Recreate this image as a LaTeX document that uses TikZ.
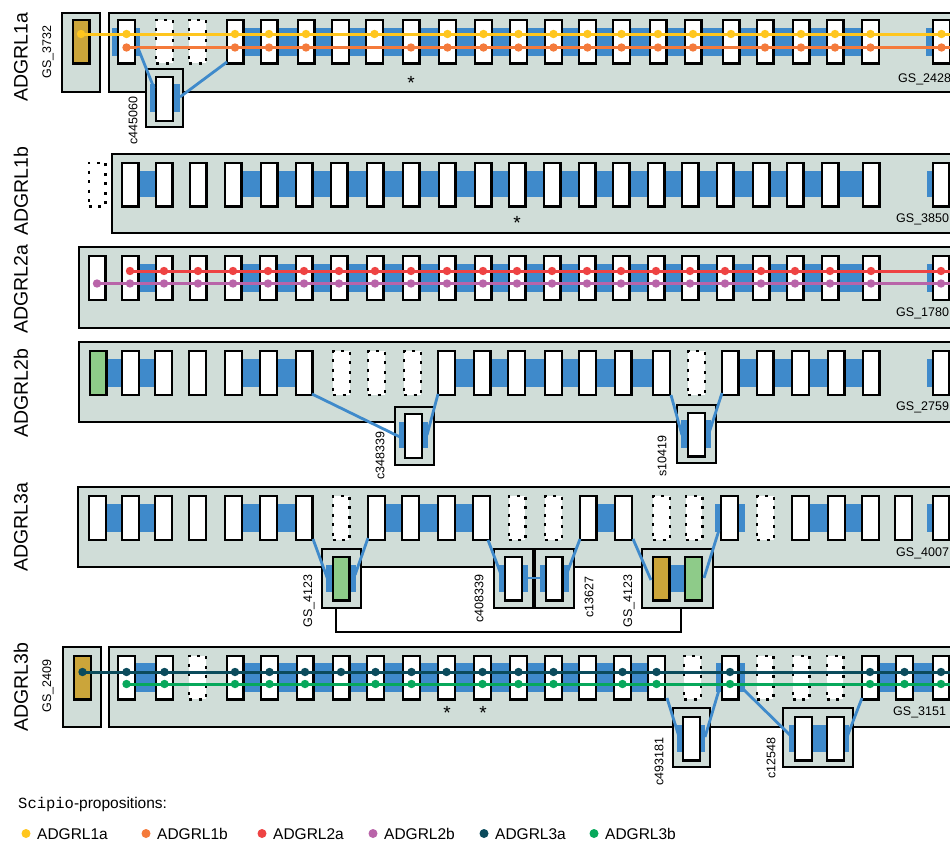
\documentclass[tikz,border=0pt]{standalone}
\usepackage{fontspec}
\setmainfont{Liberation Sans}
\setmonofont{Liberation Mono}
\definecolor{pan}{HTML}{D0DDD8}
\definecolor{bl}{HTML}{3F8ACB}
\definecolor{cyel}{HTML}{FFC61E}
\definecolor{cora}{HTML}{F47A3B}
\definecolor{cred}{HTML}{EE4343}
\definecolor{cpur}{HTML}{B964A9}
\definecolor{cteal}{HTML}{0B4B5C}
\definecolor{cgrn}{HTML}{07A85B}
\definecolor{gold}{HTML}{CBA53A}
\definecolor{lgrn}{HTML}{8ECB89}
\begin{document}
\begin{tikzpicture}[x=1pt,y=-1pt,
  panel/.style={draw=black,line width=1.3pt,fill=pan},
  exn/.style={draw=black,line width=2.2pt,fill=white,minimum width=16.8pt,minimum height=43.8pt,inner sep=0pt},
  exd/.style={exn,dash pattern=on 3pt off 6.5pt},
  exg/.style={exn,fill=gold},
  exG/.style={exn,fill=lgrn},
  conn/.style={draw=bl,line width=2.8pt},
  trk/.style={line width=3pt},
  rowlab/.style={font=\fontsize{19.5}{19.5}\selectfont,rotate=90,inner sep=0pt},
  lab/.style={font=\fontsize{12.5}{12.5}\selectfont,inner sep=0pt},
  rlab/.style={lab,rotate=90},
  star/.style={font=\fontsize{19}{19}\selectfont,inner sep=0pt},
  leg/.style={font=\fontsize{15.5}{15.5}\selectfont,inner sep=0pt,anchor=base west}]
\useasboundingbox (0,0) rectangle (950,841);
\fill[white] (0,0) rectangle (950,841);

% ---------------- ADGRL1a ----------------
\node[rowlab] (L1a) at (21,57) {ADGRL1a};
\draw[panel] (62,13) rectangle (100,92);
\draw[panel] (109,13) rectangle (960,92);
\fill[bl] (112,28) rectangle (140,56);
\fill[bl] (235,28) rectangle (870,56);
\fill[bl] (926,28) rectangle (960,56);
\node[exg] (a0) at (81,41.5) {};
\foreach \x/\t [count=\i] in {126.5/exn,164.5/exd,197.5/exd,235/exn,269/exn,306/exn,340.5/exn,374.5/exn,411/exn,447.5/exn,483.5/exn,518.5/exn,553.5/exn,587.5/exn,621.5/exn,658/exn,693/exn,731/exn,765/exn,801/exn,835/exn,870.5/exn,941.5/exn}
  \node[\t] (a\i) at (\x,41.5) {};
\draw[trk,cyel] (81,34) -- (960,34);
\draw[trk,cora] (126.5,47.5) -- (960,47.5);
\foreach \x in {81,126.5,235,269,306,374.5,447.5,483.5,518.5,553.5,587.5,621.5,658,693,731,765,801,835,870.5,941.5}
  \fill[cyel] (\x,34) circle (4.2);
\foreach \x in {126.5,235,269,306,411,447.5,483.5,518.5,553.5,587.5,621.5,658,693,765,801,835,870.5,941.5}
  \fill[cora] (\x,47.5) circle (4.2);
\node[rlab] (g3732) at (48,52) {GS\_3732};
\node[lab,anchor=west] (g2428) at (898,79) {GS\_2428};
\node[star] (s1) at (411,83) {*};
% sub c445060
\draw[panel] (146,69) rectangle (183,127);
\fill[bl] (150,84) rectangle (180,112);
\node[exn] (a1s) at (164.5,99) {};
\node[rlab] (c445060) at (133,121) {c445060};
\draw[conn] (138,48) -- (154,88);
\draw[conn] (227,62) -- (180,97);

% ---------------- ADGRL1b ----------------
\node[rowlab] (L1b) at (21,191) {ADGRL1b};
\draw[panel] (112,154) rectangle (960,233);
\fill[bl] (130,171) rectangle (164,197);
\fill[bl] (233,171) rectangle (871,197);
\fill[bl] (927,171) rectangle (960,197);
\foreach \x/\t [count=\i] in {97/exd,130/exn,164/exn,198/exn,233/exn,269/exn,304/exn,339/exn,375/exn,411/exn,447/exn,483/exn,517/exn,552/exn,587/exn,621/exn,656/exn,690/exn,725/exn,761/exn,795/exn,830/exn,871/exn,941/exn}
  \node[\t] (b\i) at (\x,184.5) {};
\node[lab,anchor=west] (g3850) at (896,219) {GS\_3850};
\node[star] (s2) at (517,223) {*};

% ---------------- ADGRL2a ----------------
\node[rowlab] (L2a) at (21,289) {ADGRL2a};
\draw[panel] (79,247) rectangle (960,328);
\fill[bl] (130,264) rectangle (164,292);
\fill[bl] (233,264) rectangle (871,292);
\fill[bl] (927,264) rectangle (960,292);
\foreach \x/\t [count=\i] in {97/exn,130/exn,164/exn,198/exn,233/exn,268/exn,304/exn,339/exn,375/exn,411/exn,447/exn,483/exn,517/exn,552/exn,587/exn,621/exn,656/exn,690/exn,725/exn,761/exn,795/exn,830/exn,871/exn,941/exn}
  \node[\t] (c\i) at (\x,278) {};
\draw[trk,cred] (130,271) -- (960,271);
\draw[trk,cpur] (97,283.5) -- (960,283.5);
\foreach \x in {130,164,198,233,268,304,339,375,411,447,483,517,552,587,621,656,690,725,761,795,830,871,941}
  \fill[cred] (\x,271) circle (4.2);
\foreach \x in {97,130,164,198,233,268,304,339,375,411,447,483,517,552,587,621,656,690,725,761,795,830,871,941}
  \fill[cpur] (\x,283.5) circle (4.2);
\node[lab,anchor=west] (g1780) at (896,313) {GS\_1780};

% ---------------- ADGRL2b ----------------
\node[rowlab] (L2b) at (21,393) {ADGRL2b};
\draw[panel] (79,342) rectangle (960,422);
\fill[bl] (98,359) rectangle (164,387);
\fill[bl] (233.5,359) rectangle (304,387);
\fill[bl] (446.5,359) rectangle (661.5,387);
\fill[bl] (730,359) rectangle (871,387);
\fill[bl] (927,359) rectangle (960,387);
\foreach \x/\t [count=\i] in {98/exG,130.5/exn,163.5/exn,197.5/exn,233.5/exn,268.5/exn,304/exn,341.5/exd,376.5/exd,412.5/exd,446.5/exn,482/exn,516.5/exn,553.5/exn,587.5/exn,623/exn,661.5/exn,696.5/exd,730/exn,765/exn,800.5/exn,836/exn,871/exn,941/exn}
  \node[\t] (d\i) at (\x,373) {};
\node[lab,anchor=west] (g2759) at (896,407) {GS\_2759};
% sub c348339
\draw[panel] (395,407) rectangle (434,465);
\fill[bl] (399,422) rectangle (428,448);
\node[exn] (d8s) at (413.5,436) {};
\node[rlab] (c348339) at (380,456) {c348339};
\draw[conn] (312,394) -- (400,437);
\draw[conn] (438,394) -- (427,435);
% sub s10419
\draw[panel] (677,405) rectangle (716,463);
\fill[bl] (681,420) rectangle (711,448);
\node[exn] (d18s) at (696.5,434.5) {};
\node[rlab] (s10419) at (662,456) {s10419};
\draw[conn] (671,395) -- (682,435);
\draw[conn] (722,393) -- (709,433);

% ---------------- ADGRL3a ----------------
\node[rowlab] (L3a) at (21,527) {ADGRL3a};
\draw[panel] (78,487) rectangle (960,567);
\fill[bl] (97.5,504) rectangle (163.5,532);
\fill[bl] (233.5,504) rectangle (304,532);
\fill[bl] (376.5,504) rectangle (481.5,532);
\fill[bl] (588,504) rectangle (623.5,532);
\fill[bl] (715,504) rectangle (745,532);
\fill[bl] (800.5,504) rectangle (870.5,532);
\fill[bl] (927,504) rectangle (960,532);
\foreach \x/\t [count=\i] in {97.5/exn,130.5/exn,163.5/exn,197.5/exn,233.5/exn,268.5/exn,304/exn,341/exd,376.5/exn,410.5/exn,446.5/exn,481.5/exn,517/exd,553.5/exd,588/exn,623.5/exn,661.5/exd,694/exd,729.5/exn,765.5/exd,800.5/exn,836.5/exn,870.5/exn,903.5/exn,941/exn}
  \node[\t] (e\i) at (\x,518) {};
\node[lab,anchor=west] (g4007) at (896,553) {GS\_4007};
% bracket
\draw[line width=1.4pt] (336,601) -- (336,632) -- (681,632) -- (681,608);
% sub GS_4123 left
\draw[panel] (322,549) rectangle (361,608);
\fill[bl] (326,565) rectangle (356,592);
\node[exG] (e8s) at (341,578.5) {};
\node[rlab] (g4123a) at (309,601) {GS\_4123};
\draw[conn] (313,539) -- (328,580);
\draw[conn] (368,538) -- (355,575);
% sub c408339 / c13627
\draw[panel] (494,549) rectangle (533,608);
\draw[panel] (535,549) rectangle (574,608);
\fill[bl] (499,565) rectangle (528,592);
\fill[bl] (540,565) rectangle (569,592);
\draw[bl,line width=2.2pt] (527,578) -- (541,578);
\node[exn] (e13s) at (513.5,578.5) {};
\node[exn] (e14s) at (554,578.5) {};
\node[rlab] (c408339) at (479,599) {c408339};
\node[rlab] (c13627) at (589,597) {c13627};
\draw[conn] (488,540) -- (502,577);
\draw[conn] (580,539) -- (567,573);
% sub GS_4123 right
\draw[panel] (642,549) rectangle (713,608);
\fill[bl] (661,565) rectangle (693.5,592);
\node[exg] (e17s) at (661,578.5) {};
\node[exG] (e18s) at (693.5,578.5) {};
\node[rlab] (g4123b) at (629,601) {GS\_4123};
\draw[conn] (633,539) -- (651,580);
\draw[conn] (719,530) -- (704,578);

% ---------------- ADGRL3b ----------------
\node[rowlab] (L3b) at (21,687) {ADGRL3b};
\draw[panel] (63,647) rectangle (101,727);
\draw[panel] (109,647) rectangle (960,727);
\fill[bl] (126.5,663) rectangle (164.5,692);
\fill[bl] (235,663) rectangle (656.5,692);
\fill[bl] (716,663) rectangle (745,692);
\fill[bl] (870,663) rectangle (960,692);
\node[exg] (f0) at (82.5,677.5) {};
\foreach \x/\t [count=\i] in {126.5/exn,164.5/exn,197.5/exd,235/exn,269.5/exn,305/exn,341/exn,375.5/exn,411.5/exn,446.5/exn,482.5/exn,518.5/exn,553.5/exn,587.5/exn,622.5/exn,656.5/exn,692.5/exd,730/exn,765/exd,801/exd,835/exd,870/exn,904.5/exn,941/exn}
  \node[\t] (f\i) at (\x,677.5) {};
\draw[trk,cteal] (82.5,672) -- (960,672);
\draw[trk,cgrn] (126.5,684) -- (960,684);
\foreach \x in {82.5,126.5,164.5,235,269.5,305,341,375.5,411.5,446.5,482.5,518.5,553.5,622.5,656.5,730,870,904.5,941}
  \fill[cteal] (\x,672) circle (4.2);
\foreach \x in {126.5,164.5,235,269.5,305,375.5,411.5,482.5,518.5,553.5,622.5,656.5,730,870,904.5,941}
  \fill[cgrn] (\x,684) circle (4.2);
\node[rlab] (g2409) at (48,686) {GS\_2409};
\node[lab,anchor=west] (g3151) at (893,712) {GS\_3151};
\node[star] (s3) at (447,713) {*};
\node[star] (s4) at (483,713) {*};
% sub c493181
\draw[panel] (673,708) rectangle (710,767);
\fill[bl] (677,725) rectangle (705,752);
\node[exn] (f17s) at (691.5,738.5) {};
\node[rlab] (c493181) at (659,762) {c493181};
\draw[conn] (667,698) -- (680,740);
\draw[conn] (719,690) -- (705,737);
% sub c12548
\draw[panel] (783,708) rectangle (853,767);
\fill[bl] (789,725) rectangle (849,752);
\node[exn] (f19s) at (803.5,738.5) {};
\node[exn] (f20s) at (835.5,738.5) {};
\node[rlab] (c12548) at (771,758) {c12548};
\draw[conn] (742,688) -- (792,737);
\draw[conn] (862,698) -- (847,737);

% ---------------- legend ----------------
\node[leg] (legt) at (18,808.5) {\texttt{Scipio}-propositions:};
\foreach \x/\c/\n in {26/cyel/ADGRL1a,146/cora/ADGRL1b,262/cred/ADGRL2a,373/cpur/ADGRL2b,484/cteal/ADGRL3a,594/cgrn/ADGRL3b}{
  \fill[\c] (\x,833.5) circle (4.5);
  \node[leg] (leg\n) at (\x+11,839) {\n};
}
\end{tikzpicture}
\end{document}
